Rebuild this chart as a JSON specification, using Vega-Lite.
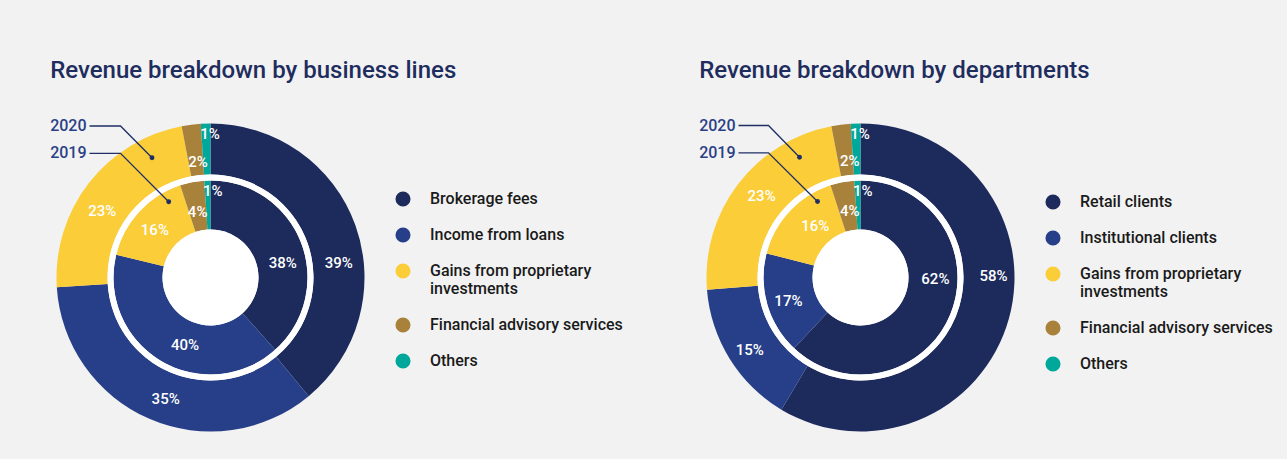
{
  "$schema": "https://vega.github.io/schema/vega-lite/v6.json",
  "background": "#f2f2f2",
  "padding": {"left": 50, "top": 58, "right": 15, "bottom": 23},
  "bounds": "flush",
  "spacing": 333,
  "resolve": {"scale": {"color": "independent", "x": "independent", "y": "independent"}, "legend": {"color": "independent"}},
  "config": {
    "view": {"stroke": null},
    "font": "Roboto",
    "title": {"anchor": "start", "fontSize": 24, "fontWeight": 500, "color": "#1f2d5e", "offset": 35, "font": "Roboto"},
    "legend": {"symbolType": "circle", "symbolSize": 227, "symbolStrokeWidth": 0, "symbolOpacity": 1, "labelFontSize": 16, "labelFontWeight": 500, "labelColor": "#1a1a1a", "labelOffset": 19, "rowPadding": 20, "padding": 0, "labelLimit": 300, "labelFont": "Roboto"},
    "text": {"font": "Roboto"}
  },
  "datasets": {
    "businessLines": [
      {"year": "2020", "segment": "Brokerage fees", "idx": 1, "share": 0.39},
      {"year": "2020", "segment": "Income from loans", "idx": 2, "share": 0.35},
      {"year": "2020", "segment": "Gains from proprietary investments", "idx": 3, "share": 0.23},
      {"year": "2020", "segment": "Financial advisory services", "idx": 4, "share": 0.02},
      {"year": "2020", "segment": "Others", "idx": 5, "share": 0.01},
      {"year": "2019", "segment": "Brokerage fees", "idx": 1, "share": 0.38},
      {"year": "2019", "segment": "Income from loans", "idx": 2, "share": 0.40},
      {"year": "2019", "segment": "Gains from proprietary investments", "idx": 3, "share": 0.16},
      {"year": "2019", "segment": "Financial advisory services", "idx": 4, "share": 0.04},
      {"year": "2019", "segment": "Others", "idx": 5, "share": 0.01}
    ],
    "departments": [
      {"year": "2020", "segment": "Retail clients", "idx": 1, "share": 0.58},
      {"year": "2020", "segment": "Institutional clients", "idx": 2, "share": 0.15},
      {"year": "2020", "segment": "Gains from proprietary investments", "idx": 3, "share": 0.23},
      {"year": "2020", "segment": "Financial advisory services", "idx": 4, "share": 0.02},
      {"year": "2020", "segment": "Others", "idx": 5, "share": 0.01},
      {"year": "2019", "segment": "Retail clients", "idx": 1, "share": 0.62},
      {"year": "2019", "segment": "Institutional clients", "idx": 2, "share": 0.17},
      {"year": "2019", "segment": "Gains from proprietary investments", "idx": 3, "share": 0.16},
      {"year": "2019", "segment": "Financial advisory services", "idx": 4, "share": 0.04},
      {"year": "2019", "segment": "Others", "idx": 5, "share": 0.01}
    ],
    "calloutLeft": [
      {"year": "2020", "step": 1, "ax": -121, "ay": 151.5},
      {"year": "2020", "step": 2, "ax": -90, "ay": 151.5},
      {"year": "2020", "step": 3, "ax": -58.5, "ay": 119.8},
      {"year": "2019", "step": 1, "ax": -121, "ay": 124.2},
      {"year": "2019", "step": 2, "ax": -90, "ay": 124.2},
      {"year": "2019", "step": 3, "ax": -41.8, "ay": 75.8}
    ],
    "calloutRight": [
      {"year": "2020", "step": 1, "ax": -122, "ay": 152},
      {"year": "2020", "step": 2, "ax": -92, "ay": 152},
      {"year": "2020", "step": 3, "ax": -61, "ay": 120.3},
      {"year": "2019", "step": 1, "ax": -122, "ay": 124.7},
      {"year": "2019", "step": 2, "ax": -92, "ay": 124.7},
      {"year": "2019", "step": 3, "ax": -43, "ay": 76}
    ],
    "ring": [{"ring": "white"}]
  },
  "hconcat": [
    {
      "width": 317,
      "height": 317,
      "title": {"text": "Revenue breakdown by business lines"},
      "data": {"name": "businessLines"},
      "layer": [
        {
          "transform": [{"filter": "datum.year == '2020'"}],
          "mark": {"type": "arc", "radius": 154, "radius2": 103},
          "encoding": {
            "theta": {"field": "share", "type": "quantitative", "stack": "normalize"},
            "order": {"field": "idx", "type": "quantitative"},
            "color": {"field": "segment", "type": "nominal", "scale": {"domain": ["Brokerage fees", "Income from loans", "Gains from proprietary investments", "Financial advisory services", "Others"], "range": ["#1d2a5c", "#263f88", "#fbcd39", "#a8823a", "#00a89b"]}, "legend": {"title": null, "orient": "none", "legendX": 343, "legendY": 72, "labelExpr": "datum.label == 'Gains from proprietary investments' ? ['Gains from proprietary', 'investments'] : datum.label"}}
          }
        },
        {
          "transform": [{"filter": "datum.year == '2019'"}],
          "mark": {"type": "arc", "radius": 97, "radius2": 48},
          "encoding": {
            "theta": {"field": "share", "type": "quantitative", "stack": "normalize"},
            "order": {"field": "idx", "type": "quantitative"},
            "color": {"field": "segment", "type": "nominal"}
          }
        },
        {"data": {"name": "ring"}, "mark": {"type": "arc", "radius": 103, "radius2": 97, "theta": 0, "theta2": 6.2832, "fill": "white"}, "encoding": {}},
        {"data": {"name": "ring"}, "mark": {"type": "arc", "radius": 48, "radius2": 0, "theta": 0, "theta2": 6.2832, "fill": "white"}, "encoding": {}},
        {
          "transform": [{"filter": "datum.year == '2020'"}],
          "mark": {"type": "text", "radius": 129, "thetaOffset": 0.234, "fill": "white", "fontSize": 15, "fontWeight": 500, "align": "center", "baseline": "middle"},
          "encoding": {"theta": {"field": "share", "type": "quantitative", "stack": "normalize"}, "order": {"field": "idx", "type": "quantitative"}, "detail": {"field": "segment"},
            "text": {"condition": {"test": "datum.segment == 'Brokerage fees'", "field": "share", "type": "quantitative", "format": ".0%"}, "value": ""}}
        },
        {
          "transform": [{"filter": "datum.year == '2020'"}],
          "mark": {"type": "text", "radius": 128, "dx": 6, "dy": 4, "fill": "white", "fontSize": 15, "fontWeight": 500, "align": "center", "baseline": "middle"},
          "encoding": {"theta": {"field": "share", "type": "quantitative", "stack": "normalize"}, "order": {"field": "idx", "type": "quantitative"}, "detail": {"field": "segment"},
            "text": {"condition": {"test": "datum.segment == 'Income from loans'", "field": "share", "type": "quantitative", "format": ".0%"}, "value": ""}}
        },
        {
          "transform": [{"filter": "datum.year == '2020'"}],
          "mark": {"type": "text", "radius": 128, "dx": -7, "dy": 12, "fill": "white", "fontSize": 15, "fontWeight": 500, "align": "center", "baseline": "middle"},
          "encoding": {"theta": {"field": "share", "type": "quantitative", "stack": "normalize"}, "order": {"field": "idx", "type": "quantitative"}, "detail": {"field": "segment"},
            "text": {"condition": {"test": "datum.segment == 'Gains from proprietary investments'", "field": "share", "type": "quantitative", "format": ".0%"}, "value": ""}}
        },
        {
          "transform": [{"filter": "datum.year == '2020'"}],
          "mark": {"type": "text", "radius": 116, "dx": 2, "dy": 0, "fill": "white", "fontSize": 15, "fontWeight": 500, "align": "center", "baseline": "middle"},
          "encoding": {"theta": {"field": "share", "type": "quantitative", "stack": "normalize"}, "order": {"field": "idx", "type": "quantitative"}, "detail": {"field": "segment"},
            "text": {"condition": {"test": "datum.segment == 'Financial advisory services'", "field": "share", "type": "quantitative", "format": ".0%"}, "value": ""}}
        },
        {
          "transform": [{"filter": "datum.year == '2020'"}],
          "mark": {"type": "text", "radius": 143.5, "dx": 4, "dy": 0, "fill": "white", "fontSize": 15, "fontWeight": 500, "align": "center", "baseline": "middle"},
          "encoding": {"theta": {"field": "share", "type": "quantitative", "stack": "normalize"}, "order": {"field": "idx", "type": "quantitative"}, "detail": {"field": "segment"},
            "text": {"condition": {"test": "datum.segment == 'Others'", "field": "share", "type": "quantitative", "format": ".0%"}, "value": ""}}
        },
        {
          "transform": [{"filter": "datum.year == '2019'"}],
          "mark": {"type": "text", "radius": 73, "dx": 4, "dy": 11.5, "fill": "white", "fontSize": 15, "fontWeight": 500, "align": "center", "baseline": "middle"},
          "encoding": {"theta": {"field": "share", "type": "quantitative", "stack": "normalize"}, "order": {"field": "idx", "type": "quantitative"}, "detail": {"field": "segment"},
            "text": {"condition": {"test": "datum.segment == 'Brokerage fees'", "field": "share", "type": "quantitative", "format": ".0%"}, "value": ""}}
        },
        {
          "transform": [{"filter": "datum.year == '2019'"}],
          "mark": {"type": "text", "radius": 73, "dx": 12, "dy": 5, "fill": "white", "fontSize": 15, "fontWeight": 500, "align": "center", "baseline": "middle"},
          "encoding": {"theta": {"field": "share", "type": "quantitative", "stack": "normalize"}, "order": {"field": "idx", "type": "quantitative"}, "detail": {"field": "segment"},
            "text": {"condition": {"test": "datum.segment == 'Income from loans'", "field": "share", "type": "quantitative", "format": ".0%"}, "value": ""}}
        },
        {
          "transform": [{"filter": "datum.year == '2019'"}],
          "mark": {"type": "text", "radius": 73, "dx": -2, "dy": 2, "fill": "white", "fontSize": 15, "fontWeight": 500, "align": "center", "baseline": "middle"},
          "encoding": {"theta": {"field": "share", "type": "quantitative", "stack": "normalize"}, "order": {"field": "idx", "type": "quantitative"}, "detail": {"field": "segment"},
            "text": {"condition": {"test": "datum.segment == 'Gains from proprietary investments'", "field": "share", "type": "quantitative", "format": ".0%"}, "value": ""}}
        },
        {
          "transform": [{"filter": "datum.year == '2019'"}],
          "mark": {"type": "text", "radius": 68, "dx": 0, "dy": 1, "fill": "white", "fontSize": 15, "fontWeight": 500, "align": "center", "baseline": "middle"},
          "encoding": {"theta": {"field": "share", "type": "quantitative", "stack": "normalize"}, "order": {"field": "idx", "type": "quantitative"}, "detail": {"field": "segment"},
            "text": {"condition": {"test": "datum.segment == 'Financial advisory services'", "field": "share", "type": "quantitative", "format": ".0%"}, "value": ""}}
        },
        {
          "transform": [{"filter": "datum.year == '2019'"}],
          "mark": {"type": "text", "radius": 86.5, "dx": 5, "dy": 0, "fill": "white", "fontSize": 15, "fontWeight": 500, "align": "center", "baseline": "middle"},
          "encoding": {"theta": {"field": "share", "type": "quantitative", "stack": "normalize"}, "order": {"field": "idx", "type": "quantitative"}, "detail": {"field": "segment"},
            "text": {"condition": {"test": "datum.segment == 'Others'", "field": "share", "type": "quantitative", "format": ".0%"}, "value": ""}}
        },
        {
          "data": {"name": "calloutLeft"},
          "mark": {"type": "line", "color": "#1f2f66", "strokeWidth": 1.3},
          "encoding": {
            "x": {"field": "ax", "type": "quantitative", "scale": {"domain": [-158.5, 158.5], "nice": false, "zero": false}, "axis": null},
            "y": {"field": "ay", "type": "quantitative", "scale": {"domain": [-158.5, 158.5], "nice": false, "zero": false}, "axis": null},
            "detail": {"field": "year"},
            "order": {"field": "step", "type": "quantitative"}
          }
        },
        {
          "data": {"name": "calloutLeft"},
          "transform": [{"filter": "datum.step == 3"}],
          "mark": {"type": "point", "filled": true, "size": 24, "color": "#1f2f66", "opacity": 1},
          "encoding": {
            "x": {"field": "ax", "type": "quantitative"},
            "y": {"field": "ay", "type": "quantitative"}
          }
        },
        {
          "data": {"name": "calloutLeft"},
          "transform": [{"filter": "datum.step == 1"}],
          "mark": {"type": "text", "align": "right", "baseline": "middle", "dx": -3, "fontSize": 16, "fontWeight": 500, "color": "#2b3f86"},
          "encoding": {
            "x": {"field": "ax", "type": "quantitative"},
            "y": {"field": "ay", "type": "quantitative"},
            "text": {"field": "year"}
          }
        }
      ]
    },
    {
      "width": 317,
      "height": 317,
      "title": {"text": "Revenue breakdown by departments"},
      "data": {"name": "departments"},
      "layer": [
        {
          "transform": [{"filter": "datum.year == '2020'"}],
          "mark": {"type": "arc", "radius": 154, "radius2": 103},
          "encoding": {
            "theta": {"field": "share", "type": "quantitative", "stack": "normalize"},
            "order": {"field": "idx", "type": "quantitative"},
            "color": {"field": "segment", "type": "nominal", "scale": {"domain": ["Retail clients", "Institutional clients", "Gains from proprietary investments", "Financial advisory services", "Others"], "range": ["#1d2a5c", "#263f88", "#fbcd39", "#a8823a", "#00a89b"]}, "legend": {"title": null, "orient": "none", "legendX": 343, "legendY": 75, "labelExpr": "datum.label == 'Gains from proprietary investments' ? ['Gains from proprietary', 'investments'] : datum.label"}}
          }
        },
        {
          "transform": [{"filter": "datum.year == '2019'"}],
          "mark": {"type": "arc", "radius": 97, "radius2": 48},
          "encoding": {
            "theta": {"field": "share", "type": "quantitative", "stack": "normalize"},
            "order": {"field": "idx", "type": "quantitative"},
            "color": {"field": "segment", "type": "nominal"}
          }
        },
        {"data": {"name": "ring"}, "mark": {"type": "arc", "radius": 103, "radius2": 97, "theta": 0, "theta2": 6.2832, "fill": "white"}, "encoding": {}},
        {"data": {"name": "ring"}, "mark": {"type": "arc", "radius": 48, "radius2": 0, "theta": 0, "theta2": 6.2832, "fill": "white"}, "encoding": {}},
        {
          "transform": [{"filter": "datum.year == '2020'"}],
          "mark": {"type": "text", "radius": 133, "thetaOffset": -0.281, "fill": "white", "fontSize": 15, "fontWeight": 500, "align": "center", "baseline": "middle"},
          "encoding": {"theta": {"field": "share", "type": "quantitative", "stack": "normalize"}, "order": {"field": "idx", "type": "quantitative"}, "detail": {"field": "segment"},
            "text": {"condition": {"test": "datum.segment == 'Retail clients'", "field": "share", "type": "quantitative", "format": ".0%"}, "value": ""}}
        },
        {
          "transform": [{"filter": "datum.year == '2020'"}],
          "mark": {"type": "text", "radius": 128, "dx": -2, "dy": 5, "fill": "white", "fontSize": 15, "fontWeight": 500, "align": "center", "baseline": "middle"},
          "encoding": {"theta": {"field": "share", "type": "quantitative", "stack": "normalize"}, "order": {"field": "idx", "type": "quantitative"}, "detail": {"field": "segment"},
            "text": {"condition": {"test": "datum.segment == 'Institutional clients'", "field": "share", "type": "quantitative", "format": ".0%"}, "value": ""}}
        },
        {
          "transform": [{"filter": "datum.year == '2020'"}],
          "mark": {"type": "text", "radius": 128, "dx": 3, "dy": -4, "fill": "white", "fontSize": 15, "fontWeight": 500, "align": "center", "baseline": "middle"},
          "encoding": {"theta": {"field": "share", "type": "quantitative", "stack": "normalize"}, "order": {"field": "idx", "type": "quantitative"}, "detail": {"field": "segment"},
            "text": {"condition": {"test": "datum.segment == 'Gains from proprietary investments'", "field": "share", "type": "quantitative", "format": ".0%"}, "value": ""}}
        },
        {
          "transform": [{"filter": "datum.year == '2020'"}],
          "mark": {"type": "text", "radius": 116, "dx": 4, "dy": -1, "fill": "white", "fontSize": 15, "fontWeight": 500, "align": "center", "baseline": "middle"},
          "encoding": {"theta": {"field": "share", "type": "quantitative", "stack": "normalize"}, "order": {"field": "idx", "type": "quantitative"}, "detail": {"field": "segment"},
            "text": {"condition": {"test": "datum.segment == 'Financial advisory services'", "field": "share", "type": "quantitative", "format": ".0%"}, "value": ""}}
        },
        {
          "transform": [{"filter": "datum.year == '2020'"}],
          "mark": {"type": "text", "radius": 144, "dx": 4, "dy": 0, "fill": "white", "fontSize": 15, "fontWeight": 500, "align": "center", "baseline": "middle"},
          "encoding": {"theta": {"field": "share", "type": "quantitative", "stack": "normalize"}, "order": {"field": "idx", "type": "quantitative"}, "detail": {"field": "segment"},
            "text": {"condition": {"test": "datum.segment == 'Others'", "field": "share", "type": "quantitative", "format": ".0%"}, "value": ""}}
        },
        {
          "transform": [{"filter": "datum.year == '2019'"}],
          "mark": {"type": "text", "radius": 73, "dx": 7, "dy": -25.6, "fill": "white", "fontSize": 15, "fontWeight": 500, "align": "center", "baseline": "middle"},
          "encoding": {"theta": {"field": "share", "type": "quantitative", "stack": "normalize"}, "order": {"field": "idx", "type": "quantitative"}, "detail": {"field": "segment"},
            "text": {"condition": {"test": "datum.segment == 'Retail clients'", "field": "share", "type": "quantitative", "format": ".0%"}, "value": ""}}
        },
        {
          "transform": [{"filter": "datum.year == '2019'"}],
          "mark": {"type": "text", "radius": 73, "dx": -2, "dy": 3, "fill": "white", "fontSize": 15, "fontWeight": 500, "align": "center", "baseline": "middle"},
          "encoding": {"theta": {"field": "share", "type": "quantitative", "stack": "normalize"}, "order": {"field": "idx", "type": "quantitative"}, "detail": {"field": "segment"},
            "text": {"condition": {"test": "datum.segment == 'Institutional clients'", "field": "share", "type": "quantitative", "format": ".0%"}, "value": ""}}
        },
        {
          "transform": [{"filter": "datum.year == '2019'"}],
          "mark": {"type": "text", "radius": 73, "dx": 8, "dy": -2, "fill": "white", "fontSize": 15, "fontWeight": 500, "align": "center", "baseline": "middle"},
          "encoding": {"theta": {"field": "share", "type": "quantitative", "stack": "normalize"}, "order": {"field": "idx", "type": "quantitative"}, "detail": {"field": "segment"},
            "text": {"condition": {"test": "datum.segment == 'Gains from proprietary investments'", "field": "share", "type": "quantitative", "format": ".0%"}, "value": ""}}
        },
        {
          "transform": [{"filter": "datum.year == '2019'"}],
          "mark": {"type": "text", "radius": 68, "dx": 2, "dy": 0, "fill": "white", "fontSize": 15, "fontWeight": 500, "align": "center", "baseline": "middle"},
          "encoding": {"theta": {"field": "share", "type": "quantitative", "stack": "normalize"}, "order": {"field": "idx", "type": "quantitative"}, "detail": {"field": "segment"},
            "text": {"condition": {"test": "datum.segment == 'Financial advisory services'", "field": "share", "type": "quantitative", "format": ".0%"}, "value": ""}}
        },
        {
          "transform": [{"filter": "datum.year == '2019'"}],
          "mark": {"type": "text", "radius": 87, "dx": 5, "dy": 0, "fill": "white", "fontSize": 15, "fontWeight": 500, "align": "center", "baseline": "middle"},
          "encoding": {"theta": {"field": "share", "type": "quantitative", "stack": "normalize"}, "order": {"field": "idx", "type": "quantitative"}, "detail": {"field": "segment"},
            "text": {"condition": {"test": "datum.segment == 'Others'", "field": "share", "type": "quantitative", "format": ".0%"}, "value": ""}}
        },
        {
          "data": {"name": "calloutRight"},
          "mark": {"type": "line", "color": "#1f2f66", "strokeWidth": 1.3},
          "encoding": {
            "x": {"field": "ax", "type": "quantitative", "scale": {"domain": [-158.5, 158.5], "nice": false, "zero": false}, "axis": null},
            "y": {"field": "ay", "type": "quantitative", "scale": {"domain": [-158.5, 158.5], "nice": false, "zero": false}, "axis": null},
            "detail": {"field": "year"},
            "order": {"field": "step", "type": "quantitative"}
          }
        },
        {
          "data": {"name": "calloutRight"},
          "transform": [{"filter": "datum.step == 3"}],
          "mark": {"type": "point", "filled": true, "size": 24, "color": "#1f2f66", "opacity": 1},
          "encoding": {
            "x": {"field": "ax", "type": "quantitative"},
            "y": {"field": "ay", "type": "quantitative"}
          }
        },
        {
          "data": {"name": "calloutRight"},
          "transform": [{"filter": "datum.step == 1"}],
          "mark": {"type": "text", "align": "right", "baseline": "middle", "dx": -3, "fontSize": 16, "fontWeight": 500, "color": "#2b3f86"},
          "encoding": {
            "x": {"field": "ax", "type": "quantitative"},
            "y": {"field": "ay", "type": "quantitative"},
            "text": {"field": "year"}
          }
        }
      ]
    }
  ]
}
